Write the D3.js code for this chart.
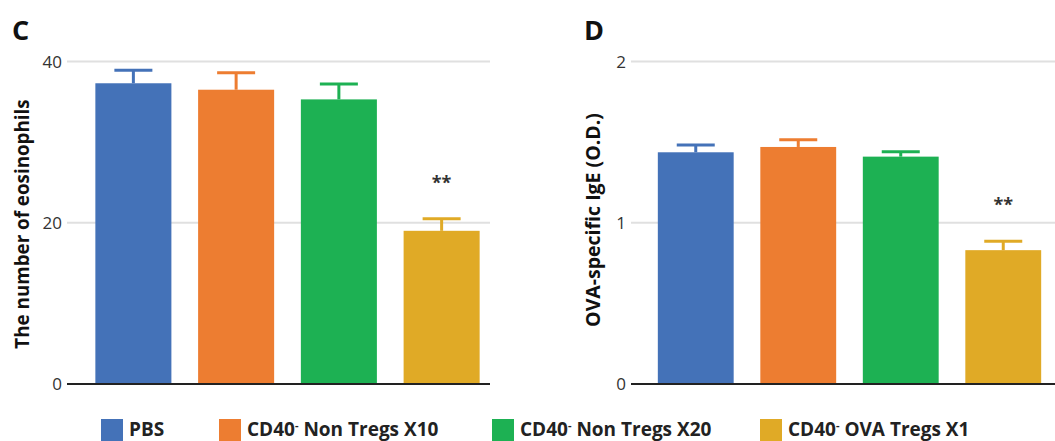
<!DOCTYPE html>
<html><head><meta charset="utf-8">
<script src="https://cdn.jsdelivr.net/npm/d3@7"></script>
<style>body{margin:0;background:#fff}svg{display:block}</style>
</head><body>
<svg id="c" width="1055" height="441"></svg>
<script>
const groups = ["PBS", "CD40- Non Tregs X10", "CD40- Non Tregs X20", "CD40- OVA Tregs X1"];
const colors = ["#4472B8", "#ED7D31", "#1DB153", "#E0AA26"];
const eosMean = [37.3, 36.5, 35.3, 19.0];
const eosErr  = [1.6, 2.1, 1.9, 1.5];
const eosTicks = [0, 20, 40];
const igeMean = [1.437, 1.47, 1.41, 0.83];
const igeErr  = [0.045, 0.045, 0.03, 0.055];
const igeTicks = [0, 1, 2];
const sig = ["", "", "", "**"];

const svg = d3.select("#c");
const font = "'Open Sans', 'Noto Sans', sans-serif";

function panel(opt) {
  const g = svg.append("g");
  const y = d3.scaleLinear().domain([0, opt.max]).range([384, 61.5]);
  const x = d3.scaleBand().domain(groups).range(opt.xr).paddingInner(0.26).paddingOuter(0.13);
  g.selectAll(".grid").data(opt.ticks.filter(t => t > 0)).join("line")
    .attr("x1", opt.gx[0]).attr("x2", opt.gx[1])
    .attr("y1", d => y(d)).attr("y2", d => y(d))
    .attr("stroke", "#e0e0e0").attr("stroke-width", 2);
  g.selectAll(".tl").data(opt.ticks).join("text")
    .attr("x", opt.gx[0] - 5).attr("y", d => y(d)).attr("dy", "0.36em")
    .attr("text-anchor", "end").attr("font-family", font).attr("font-size", 17)
    .attr("fill", "#333").text(d => d);
  g.selectAll(".bar").data(groups).join("rect")
    .attr("x", d => x(d)).attr("width", x.bandwidth())
    .attr("y", (d, i) => y(opt.mean[i])).attr("height", (d, i) => y(0) - y(opt.mean[i]))
    .attr("fill", (d, i) => colors[i]);
  const eb = g.selectAll(".eb").data(groups).join("g");
  eb.append("line")
    .attr("x1", d => x(d) + x.bandwidth() / 2).attr("x2", d => x(d) + x.bandwidth() / 2)
    .attr("y1", (d, i) => y(opt.mean[i])).attr("y2", (d, i) => y(opt.mean[i] + opt.err[i]))
    .attr("stroke", (d, i) => colors[i]).attr("stroke-width", 3);
  eb.append("line")
    .attr("x1", d => x(d) + x.bandwidth() / 2 - 19).attr("x2", d => x(d) + x.bandwidth() / 2 + 19)
    .attr("y1", (d, i) => y(opt.mean[i] + opt.err[i])).attr("y2", (d, i) => y(opt.mean[i] + opt.err[i]))
    .attr("stroke", (d, i) => colors[i]).attr("stroke-width", 3);
  g.selectAll(".sig").data(groups).join("text")
    .attr("x", d => x(d) + x.bandwidth() / 2)
    .attr("y", (d, i) => y(opt.mean[i] + opt.err[i]) - 30)
    .attr("text-anchor", "middle").attr("font-family", font).attr("font-size", 18)
    .attr("font-weight", "bold").attr("fill", "#333").text((d, i) => sig[i]);
  g.append("line").attr("x1", opt.gx[0]).attr("x2", opt.gx[1])
    .attr("y1", y(0)).attr("y2", y(0)).attr("stroke", "#222").attr("stroke-width", 2);
  g.append("text").attr("transform", `translate(${opt.tx},${opt.ty}) rotate(-90)`)
    .attr("text-anchor", "middle").attr("font-family", font).attr("font-size", opt.tfs)
    .attr("font-weight", "bold").attr("fill", "#111").text(opt.title);
  g.append("text").attr("x", opt.lx).attr("y", 40).attr("font-family", font)
    .attr("font-size", 27).attr("font-weight", "bold").attr("fill", "#111").text(opt.letter);
}

panel({max: 40, ticks: eosTicks, mean: eosMean, err: eosErr, xr: [82, 493], gx: [67, 490],
       tx: 29, ty: 224, tfs: 18.8, title: "The number of eosinophils", lx: 12, letter: "C"});
panel({max: 2, ticks: igeTicks, mean: igeMean, err: igeErr, xr: [644.5, 1054.5], gx: [631, 1055],
       tx: 600, ty: 220, tfs: 19.5, title: "OVA-specific IgE (O.D.)", lx: 584, letter: "D"});

const legX = [101, 219, 492, 760];
const leg = svg.append("g");
groups.forEach((gname, i) => {
  leg.append("rect").attr("x", legX[i]).attr("y", 419).attr("width", 22).attr("height", 22).attr("fill", colors[i]);
  const t = leg.append("text").attr("x", legX[i] + 28).attr("y", 436)
    .attr("font-family", "'Liberation Sans Narrow', 'Open Sans', sans-serif").attr("font-size", 19)
    .attr("font-weight", "bold").attr("fill", "#222");
  const parts = gname.split("-");
  if (parts.length > 1) {
    t.append("tspan").text(parts[0]);
    t.append("tspan").attr("dy", -7).attr("font-size", 11).text("-");
    t.append("tspan").attr("dy", 7).text(parts[1]);
  } else {
    t.text(gname);
  }
});
</script>
</body></html>
